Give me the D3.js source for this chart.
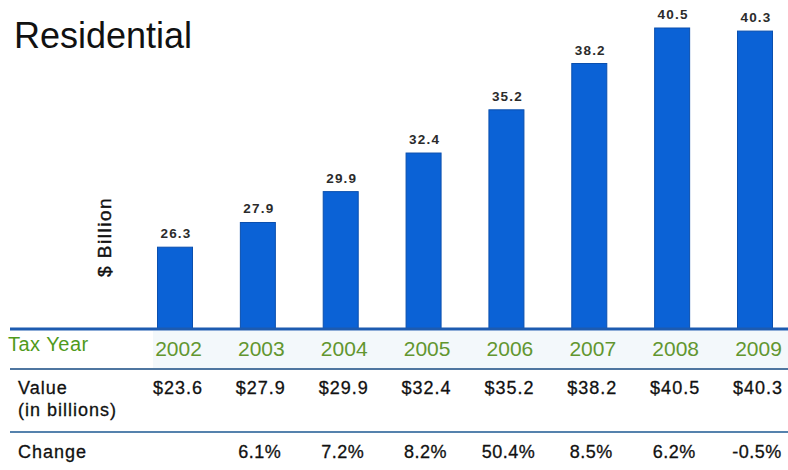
<!DOCTYPE html>
<html>
<head>
<meta charset="utf-8">
<script src="https://cdn.jsdelivr.net/npm/d3@7"></script>
<style>
  body { margin: 0; background: #fff; }
  svg { display: block; font-family: "Liberation Sans", Arial, Helvetica, sans-serif; }
</style>
</head>
<body>
<svg id="chart" width="788" height="470"></svg>
<script>
// chart data
var years = ["2002", "2003", "2004", "2005", "2006", "2007", "2008", "2009"];
var barValues = [26.3, 27.9, 29.9, 32.4, 35.2, 38.2, 40.5, 40.3];
var valueRow = ["$23.6", "$27.9", "$29.9", "$32.4", "$35.2", "$38.2", "$40.5", "$40.3"];
var changeRow = ["", "6.1%", "7.2%", "8.2%", "50.4%", "8.5%", "6.2%", "-0.5%"];

var svg = d3.select("#chart");

var baseY = 329;
var barW = 35;

var x = d3.scalePoint()
    .domain(years)
    .range([175, 755]);

// the value axis does not start at zero
var y = d3.scaleLinear()
    .domain([21, 40.5])
    .range([baseY, 28]);

// title
svg.append("text")
    .attr("x", 14)
    .attr("y", 48)
    .attr("font-size", "36px")
    .attr("fill", "#111")
    .text("Residential");

// y title
svg.append("text")
    .attr("transform", "translate(111,237)rotate(-90)")
    .attr("text-anchor", "middle")
    .attr("font-size", "19px")
    .attr("letter-spacing", "1.5px")
    .attr("fill", "#111")
    .attr("stroke", "#111")
    .attr("stroke-width", 0.4)
    .text("$ Billion");

// light band behind the year labels
svg.append("rect")
    .attr("x", 153)
    .attr("y", 331)
    .attr("width", 788 - 153)
    .attr("height", 37)
    .attr("fill", "#f3f8fb");

// bars
svg.append("g")
    .selectAll("rect")
    .data(barValues)
    .enter().append("rect")
    .attr("x", function(d, i) { return x(years[i]) - barW / 2; })
    .attr("y", function(d) { return y(d); })
    .attr("width", barW)
    .attr("height", function(d) { return baseY - y(d); })
    .attr("fill", "#0b62d6")
    .attr("stroke", "#0a4fae")
    .attr("stroke-width", 1);

// bar labels
svg.append("g")
    .selectAll("text")
    .data(barValues)
    .enter().append("text")
    .attr("x", function(d, i) { return x(years[i]) + 1; })
    .attr("y", function(d) { return y(d) - 9; })
    .attr("text-anchor", "middle")
    .attr("font-size", "13.5px")
    .attr("font-weight", "bold")
    .attr("letter-spacing", "1.2px")
    .attr("fill", "#2b2b2b")
    .text(function(d) { return d.toFixed(1); });

// base line
svg.append("line")
    .attr("x1", 10).attr("x2", 788)
    .attr("y1", baseY).attr("y2", baseY)
    .attr("stroke", "#1d5bb0")
    .attr("stroke-width", 3);

// table rules
svg.append("line")
    .attr("x1", 10).attr("x2", 788)
    .attr("y1", 369).attr("y2", 369)
    .attr("stroke", "#4f76a0")
    .attr("stroke-width", 2);

svg.append("line")
    .attr("x1", 10).attr("x2", 788)
    .attr("y1", 432).attr("y2", 432)
    .attr("stroke", "#5582ad")
    .attr("stroke-width", 2);

// row headers
svg.append("text")
    .attr("x", 8).attr("y", 351)
    .attr("font-size", "20px")
    .attr("letter-spacing", "0.5px")
    .attr("fill", "#4f9a1c")
    .text("Tax Year");

var rowHead = svg.append("g")
    .attr("font-size", "18px")
    .attr("letter-spacing", "1px")
    .attr("fill", "#111")
    .attr("stroke", "#111")
    .attr("stroke-width", 0.3);

rowHead.append("text").attr("x", 18).attr("y", 394).text("Value");
rowHead.append("text").attr("x", 18).attr("y", 416).text("(in billions)");
rowHead.append("text").attr("x", 18).attr("y", 458).text("Change");

// year labels, as an axis with no line or ticks
var xAxis = d3.axisBottom(x).tickSize(0).tickPadding(0);
var yearG = svg.append("g")
    .attr("transform", "translate(3,341)")
    .call(xAxis);
yearG.select(".domain").remove();
yearG.selectAll("text")
    .attr("font-family", "Liberation Sans, Arial, sans-serif")
    .attr("font-size", "21px")
    .attr("fill", "#62962f")
    .attr("dy", "0.72em");

// value row
svg.append("g")
    .selectAll("text")
    .data(valueRow)
    .enter().append("text")
    .attr("x", function(d, i) { return x(years[i]) + 3; })
    .attr("y", 394)
    .attr("text-anchor", "middle")
    .attr("font-size", "18px")
    .attr("letter-spacing", "1px")
    .attr("fill", "#111")
    .attr("stroke", "#111")
    .attr("stroke-width", 0.3)
    .text(function(d) { return d; });

// change row
svg.append("g")
    .selectAll("text")
    .data(changeRow)
    .enter().append("text")
    .attr("x", function(d, i) { return x(years[i]) + 2; })
    .attr("y", 458)
    .attr("text-anchor", "middle")
    .attr("font-size", "18px")
    .attr("letter-spacing", "0.5px")
    .attr("fill", "#111")
    .attr("stroke", "#111")
    .attr("stroke-width", 0.3)
    .text(function(d) { return d; });
</script>
</body>
</html>
